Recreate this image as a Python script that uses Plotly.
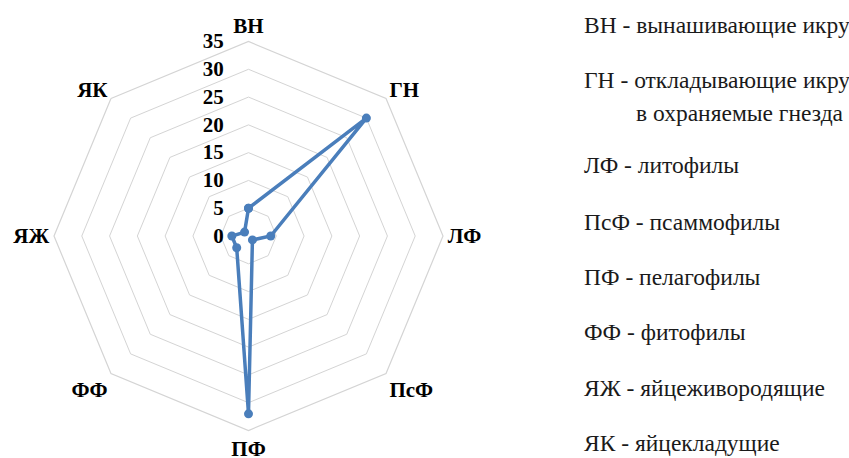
import plotly.graph_objects as go

# Spawning groups and the share (%) of species in each
categories = ["ВН", "ГН", "ЛФ", "ПсФ", "ПФ", "ФФ", "ЯЖ", "ЯК"]
values = [5, 30, 4, 1, 32, 3, 3, 1]
radial_ticks = [0, 5, 10, 15, 20, 25, 30, 35]

# Key to the abbreviations shown at the right
legend_lines = [
    "ВН - вынашивающие икру",
    "ГН - откладывающие икру",
    "ЛФ - литофилы",
    "ПсФ - псаммофилы",
    "ПФ - пелагофилы",
    "ФФ - фитофилы",
    "ЯЖ - яйцеживородящие",
    "ЯК - яйцекладущие",
]
legend_continuation = "в охраняемые гнезда"

W, H = 849, 458
SERIF = "Liberation Serif, Times New Roman, serif"
BLUE = "#4a7ebb"
GRID = "#d4d4d4"

fig = go.Figure()
fig.add_trace(go.Scatterpolar(
    r=values + values[:1],
    theta=categories + categories[:1],
    mode="lines+markers",
    line=dict(color=BLUE, width=3.5),
    marker=dict(color=BLUE, size=9),
    showlegend=False,
    hoverinfo="skip",
))

# polar area: centre near (248.5, 236) px, outer radius ~194.5 px
cx, cy, R = 248.5, 236.0, 194.5
fig.update_layout(
    width=W, height=H,
    margin=dict(l=0, r=0, t=0, b=0),
    paper_bgcolor="white",
    plot_bgcolor="white",
    font=dict(family=SERIF),
    polar=dict(
        domain=dict(x=[(cx - R) / W, (cx + R) / W],
                    y=[(H - cy - R) / H, (H - cy + R) / H]),
        bgcolor="white",
        gridshape="linear",
        radialaxis=dict(
            range=[0, 35],
            tickvals=radial_ticks,
            ticktext=[str(t) for t in radial_ticks],
            angle=90,
            side="counterclockwise",
            tickangle=90,
            showline=False,
            # invisible ticks keep the numbers clear of the axis
            ticks="outside",
            ticklen=17,
            tickcolor="rgba(0,0,0,0)",
            gridcolor=GRID,
            gridwidth=1.2,
            tickfont=dict(family=SERIF, size=21, color="black", weight="bold"),
        ),
        angularaxis=dict(
            rotation=90,
            direction="clockwise",
            showgrid=False,
            showline=True,
            linecolor=GRID,
            linewidth=1.2,
            ticks="",
            tickfont=dict(family=SERIF, size=21, color="black", weight="bold"),
        ),
    ),
)

# key text on the right
x0 = 582 / W
ys = [25, 80, 165, 222, 277, 332, 388, 443]
for txt, yp in zip(legend_lines, ys):
    fig.add_annotation(
        x=x0, y=1 - yp / H, xref="paper", yref="paper",
        xanchor="left", yanchor="middle", showarrow=False,
        text=txt, font=dict(family=SERIF, size=23.5, color="#1a1a1a"),
    )
fig.add_annotation(
    x=846 / W, y=1 - 113 / H, xref="paper", yref="paper",
    xanchor="right", yanchor="middle", showarrow=False,
    text=legend_continuation, font=dict(family=SERIF, size=23.5, color="#1a1a1a"),
)

fig.write_html("out.html")
